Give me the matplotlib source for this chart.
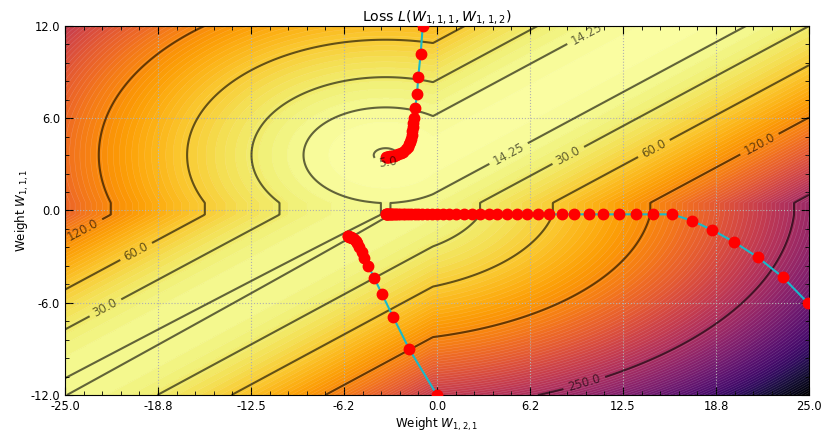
import numpy as np
import matplotlib
matplotlib.use("Agg")
import matplotlib.pyplot as plt
from matplotlib.ticker import MultipleLocator, FormatStrFormatter

# gradient descent paths (x = W_{1,2,1}, y = W_{1,1,1})
top_x = [-0.96, -1.10, -1.26, -1.34, -1.46, -1.55, -1.60, -1.63, -1.67, -1.70, -1.75, -1.81,
         -1.88, -1.97, -2.10, -2.27, -2.43, -2.60, -2.75, -2.90, -3.05, -3.15, -3.22, -3.28,
         -3.33, -3.38, -3.42]
top_y = [12.0, 10.18, 8.70, 7.60, 6.69, 6.00, 5.70, 5.45, 5.18, 4.91, 4.68, 4.48,
         4.30, 4.15, 3.98, 3.82, 3.72, 3.65, 3.60, 3.57, 3.54, 3.52, 3.51, 3.50,
         3.50, 3.50, 3.50]

low_x = [0.0, -1.86, -2.94, -3.70, -4.23, -4.62, -4.91, -5.06, -5.22, -5.35, -5.47, -5.58,
         -5.68, -5.76, -5.83, -5.88, -5.92, -5.96, -6.00]
low_y = [-12.0, -9.03, -6.94, -5.43, -4.37, -3.59, -3.07, -2.68, -2.35, -2.12, -1.96, -1.85,
         -1.79, -1.75, -1.73, -1.72, -1.71, -1.68, -1.65]

right_x = [24.91, 23.23, 21.55, 19.96, 18.50, 17.12, 15.81, 14.54, 13.35, 12.25, 11.18, 10.22,
           9.23, 8.38, 7.55, 6.77, 6.03, 5.36, 4.68, 4.05, 3.49, 2.89, 2.33, 1.80, 1.30, 0.83,
           0.40, 0.00, -0.35, -0.68, -0.98, -1.25, -1.50, -1.73, -1.94, -2.13, -2.30, -2.46,
           -2.60, -2.73, -2.85, -2.95, -3.04, -3.12, -3.19, -3.25, -3.30, -3.35, -3.39, -3.43,
           -3.46]
right_y = [-6.0, -4.33, -3.04, -2.05, -1.27, -0.66] + [-0.25] * 45

# contour levels and where their labels sit
line_levels = [5.0, 14.25, 30.0, 60.0, 120.0, 250.0]
label_text = ["5.0", "14.25", "30.0", "60.0", "120.0", "250.0"]
label_spots = [[(-3.3, 3.1)],
               [(4.7, 3.9), (10.1, 11.4)],
               [(8.7, 3.8), (-22.3, -6.3)],
               [(14.45, 4.26), (-20.2, -2.7)],
               [(21.4, 4.8), (-23.7, -1.4)],
               [(9.8, -10.9)]]

# shape of the loss surface: piecewise quadratic, relu kinks at x = -0.27,
# and a dead strip -0.27 < y < 0.5 where the loss does not depend on y
kink_x = -0.27
strip_lo, strip_hi = -0.27, 0.5
c0, kx, ky = 4.8, 0.31, 0.98
xc, yc = -3.45, 3.6
slope = 0.52
e3 = -3.76
b4 = 0.056


def loss(w21, w11):
    X = w21 - kink_x
    Y = np.where(w11 > strip_hi, w11 - strip_hi, np.where(w11 < strip_lo, w11 - strip_lo, 0.0))
    Xc = xc - kink_x
    Yc = yc - strip_hi
    m = kx / slope**2
    D = -2 * kx * Xc
    F = c0 + kx * Xc**2 + ky * Yc**2
    t = Y - slope * X
    q2 = c0 + kx * (X - Xc)**2 + ky * (Y - Yc)**2
    q1 = c0 + kx * Xc**2 + ky * (t - Yc)**2
    q3 = m * t**2 + e3 * t + (D + e3 * slope) * X + F
    q4 = (ky * slope**2 * X**2 + b4 * X * Y + m * Y**2
          + 2 * ky * slope * Yc * X + e3 * Y + F)
    return np.where(X < 0, np.where(Y >= 0, q2, q3), np.where(Y >= 0, q1, q4))


W21, W11 = np.meshgrid(np.linspace(-25, 25, 700), np.linspace(-12, 12, 420))
Z = loss(W21, W11)

fig = plt.figure(figsize=(8.29, 4.33), dpi=100)
ax = fig.add_axes([0.0784, 0.0878, 0.8975, 0.8522])

fill_levels = np.linspace(Z.min(), Z.max(), 100)
ax.contourf(W21, W11, Z, levels=fill_levels, cmap="inferno_r")
ax.contour(W21, W11, Z, levels=fill_levels, colors="white", linewidths=0.3, alpha=0.25)

for level, text, spots in zip(line_levels, label_text, label_spots):
    cs = ax.contour(W21, W11, Z, levels=[level], colors="k", linewidths=1.5, alpha=0.6)
    labels = ax.clabel(cs, fmt={level: text}, manual=spots, fontsize=8.5, inline=True)
    for lab in labels:
        lab.set_alpha(0.6)
        lab.set_zorder(5)

cyan = "#17b9cb"
for px, py in [(top_x, top_y), (low_x, low_y), (right_x, right_y)]:
    ax.plot(px, py, "-", color=cyan, lw=1.5, zorder=3)
    ax.plot(px, py, "o", color="red", ms=7.5, zorder=4)

ax.set_xlim(-25, 25)
ax.set_ylim(-12, 12)
ax.set_xticks(np.linspace(-25, 25, 9))
ax.set_yticks(np.arange(-12, 13, 6))
ax.xaxis.set_major_formatter(FormatStrFormatter("%.1f"))
ax.yaxis.set_major_formatter(FormatStrFormatter("%.1f"))
ax.xaxis.set_minor_locator(MultipleLocator(1.25))
ax.yaxis.set_minor_locator(MultipleLocator(1.2))
ax.tick_params(which="both", direction="in", top=True, right=True, labelsize=8.3)
ax.tick_params(which="major", length=6)
ax.tick_params(which="minor", length=3)
ax.grid(True, linestyle=":", color="#b0b0b0", linewidth=0.8)

ax.set_title("Loss $L(W_{1,1,1}, W_{1,1,2})$", fontsize=10.2, pad=4)
ax.set_xlabel("Weight $W_{1,2,1}$", fontsize=8.6, labelpad=2)
ax.set_ylabel("Weight $W_{1,1,1}$", fontsize=8.6, labelpad=0)

fig.savefig("out.png", dpi=100)
